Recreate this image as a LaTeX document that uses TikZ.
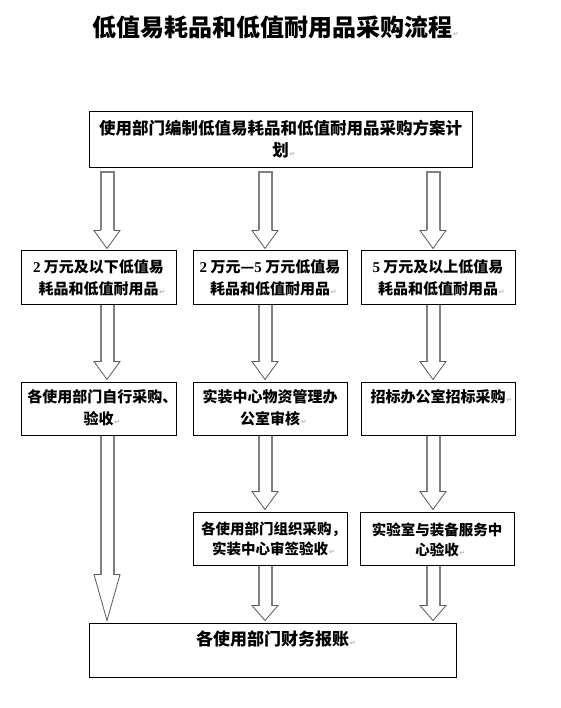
\documentclass[tikz,border=0pt]{standalone}
\usepackage{fontspec}
\setmainfont{Liberation Serif}
\newfontfamily\cjk{Noto Sans CJK SC}
\newfontfamily\djv{DejaVu Sans}
\usetikzlibrary{calc}
\newcommand\fnt[2]{\fontsize{#1}{#2}\selectfont}
\newcommand\parmark{\rlap{\kern0.8pt\djv\fontsize{7}{7}\selectfont\color{gray!60}↵}}
\newcommand\dg[1]{{\rmfamily\bfseries #1}}
\tikzset{
  box/.style={draw=black, line width=1pt, inner sep=0pt, minimum height=53pt},
  txt/.style={anchor=north, inner sep=0pt, align=center},
  rowfont/.style={font=\cjk\bfseries\fnt{15}{21.5}},
  shaftline/.style={draw=gray, line width=2pt},
  headline/.style={draw=gray!70!black, line width=0.8pt, line join=miter},
}
% #1 column coordinate, #2 source node, #3 target node, #4 head length, #5 gap below source
\newcommand\blockarrow[5]{%
  \path[fill=white] let \p1=(#1),\p2=(#2.south),\p3=(#3.north) in
    (\x1-6.5pt,\y2-#5-0.5pt) -- (\x1-6.5pt,\y3+2pt+#4) -- (\x1-13pt,\y3+2pt+#4) -- (\x1,\y3+2pt)
    -- (\x1+13pt,\y3+2pt+#4) -- (\x1+6.5pt,\y3+2pt+#4) -- (\x1+6.5pt,\y2-#5-0.5pt) -- cycle;
  \draw[shaftline] let \p1=(#1),\p2=(#2.south),\p3=(#3.north) in
    (\x1-6.5pt,\y3+2pt+#4) -- (\x1-6.5pt,\y2-#5-0.5pt)
    (\x1+6.5pt,\y2-#5-0.5pt) -- (\x1+6.5pt,\y3+2pt+#4);
  \draw[headline] let \p1=(#1),\p2=(#2.south),\p3=(#3.north) in
    (\x1-6.5pt,\y3+2pt+#4) -- (\x1-13pt,\y3+2pt+#4) -- (\x1,\y3+2pt)
    -- (\x1+13pt,\y3+2pt+#4) -- (\x1+6.5pt,\y3+2pt+#4);
}
\newcommand\arrowtop[3]{%
  \draw[shaftline] let \p1=(#1),\p2=(#2.south) in
    (\x1-7.5pt,\y2-#3) -- (\x1+7.5pt,\y2-#3);
}
\begin{document}
\begin{tikzpicture}[x=1pt,y=-1pt]
\useasboundingbox[fill=white] (0,0) rectangle (561,708);

\coordinate (c1) at (107,0);
\coordinate (c2) at (265,0);
\coordinate (c3) at (433,0);

% title
\node[txt, font=\cjk\bfseries\fnt{24}{28}] (title) at (272,15.5) {低值易耗品和低值耐用品采购流程\parmark};

% boxes
\node[box, minimum width=383pt, minimum height=56pt] (top) at (280.5,140) {};
\node[box, minimum width=155pt] (b21) at (98.5,277.5) {};
\node[box, minimum width=154pt] (b22) at (270,277.5) {};
\node[box, minimum width=154pt] (b23) at (438,277.5) {};
\node[box, minimum width=155pt] (b31) at (98.5,408.5) {};
\node[box, minimum width=154pt] (b32) at (270,408.5) {};
\node[box, minimum width=154pt] (b33) at (438,408.5) {};
\node[box, minimum width=154pt] (b42) at (270,538.5) {};
\node[box, minimum width=154pt] (b43) at (437,538.5) {};
\node[box, minimum width=367pt, minimum height=54pt] (bot) at (272.5,650) {};

% texts
\node[txt, font=\cjk\bfseries\fnt{16.5}{22}] (ttop) at (280.5,120.2) {使用部门编制低值易耗品和低值耐用品采购方案计\\划\parmark};
\node[txt, rowfont] (t21) at (98.5,259.6) {\dg{2} 万元及以下低值易\\耗品和低值耐用品\parmark};
\node[txt, rowfont] (t22) at (270,259.6) {\dg{2} 万元—\dg{5} 万元低值易\\耗品和低值耐用品\parmark};
\node[txt, rowfont] (t23) at (438,259.6) {\dg{5} 万元及以上低值易\\耗品和低值耐用品\parmark};
\node[txt, rowfont] (t31) at (98.5,389.6) {各使用部门自行采购\makebox[0.5em][l]{、}\\验收\parmark};
\node[txt, rowfont] (t32) at (270,389.6) {实装中心物资管理办\\公室审核\parmark};
\node[txt, rowfont] (t33) at (438,389.6) {招标办公室招标采购\parmark};
\node[txt, font=\cjk\bfseries\fnt{14.5}{20}] (t42) at (270,522.2) {各使用部门组织采购\makebox[0.5em][l]{，}\\实装中心审签验收\parmark};
\node[txt, font=\cjk\bfseries\fnt{14.5}{20}] (t43) at (437,522.2) {实验室与装备服务中\\心验收\parmark};
\node[txt, font=\cjk\bfseries\fnt{17}{22}] (tbot) at (272.5,631) {各使用部门财务报账\parmark};

% block arrows
\blockarrow{c1}{top}{b21}{18pt}{4pt}
\blockarrow{c2}{top}{b22}{18pt}{4pt}
\blockarrow{c3}{top}{b23}{18pt}{4pt}
\arrowtop{c1}{top}{4pt}
\arrowtop{c2}{top}{4pt}
\arrowtop{c3}{top}{4pt}

\blockarrow{c1}{b21}{b31}{18pt}{0pt}
\blockarrow{c2}{b22}{b32}{18pt}{0pt}
\blockarrow{c3}{b23}{b33}{18pt}{0pt}

\blockarrow{c2}{b32}{b42}{18pt}{0pt}
\blockarrow{c3}{b33}{b43}{18pt}{0pt}

\blockarrow{c1}{b31}{bot}{46pt}{0pt}
\blockarrow{c2}{b42}{bot}{15pt}{0pt}
\blockarrow{c3}{b43}{bot}{15pt}{0pt}
\end{tikzpicture}
\end{document}
